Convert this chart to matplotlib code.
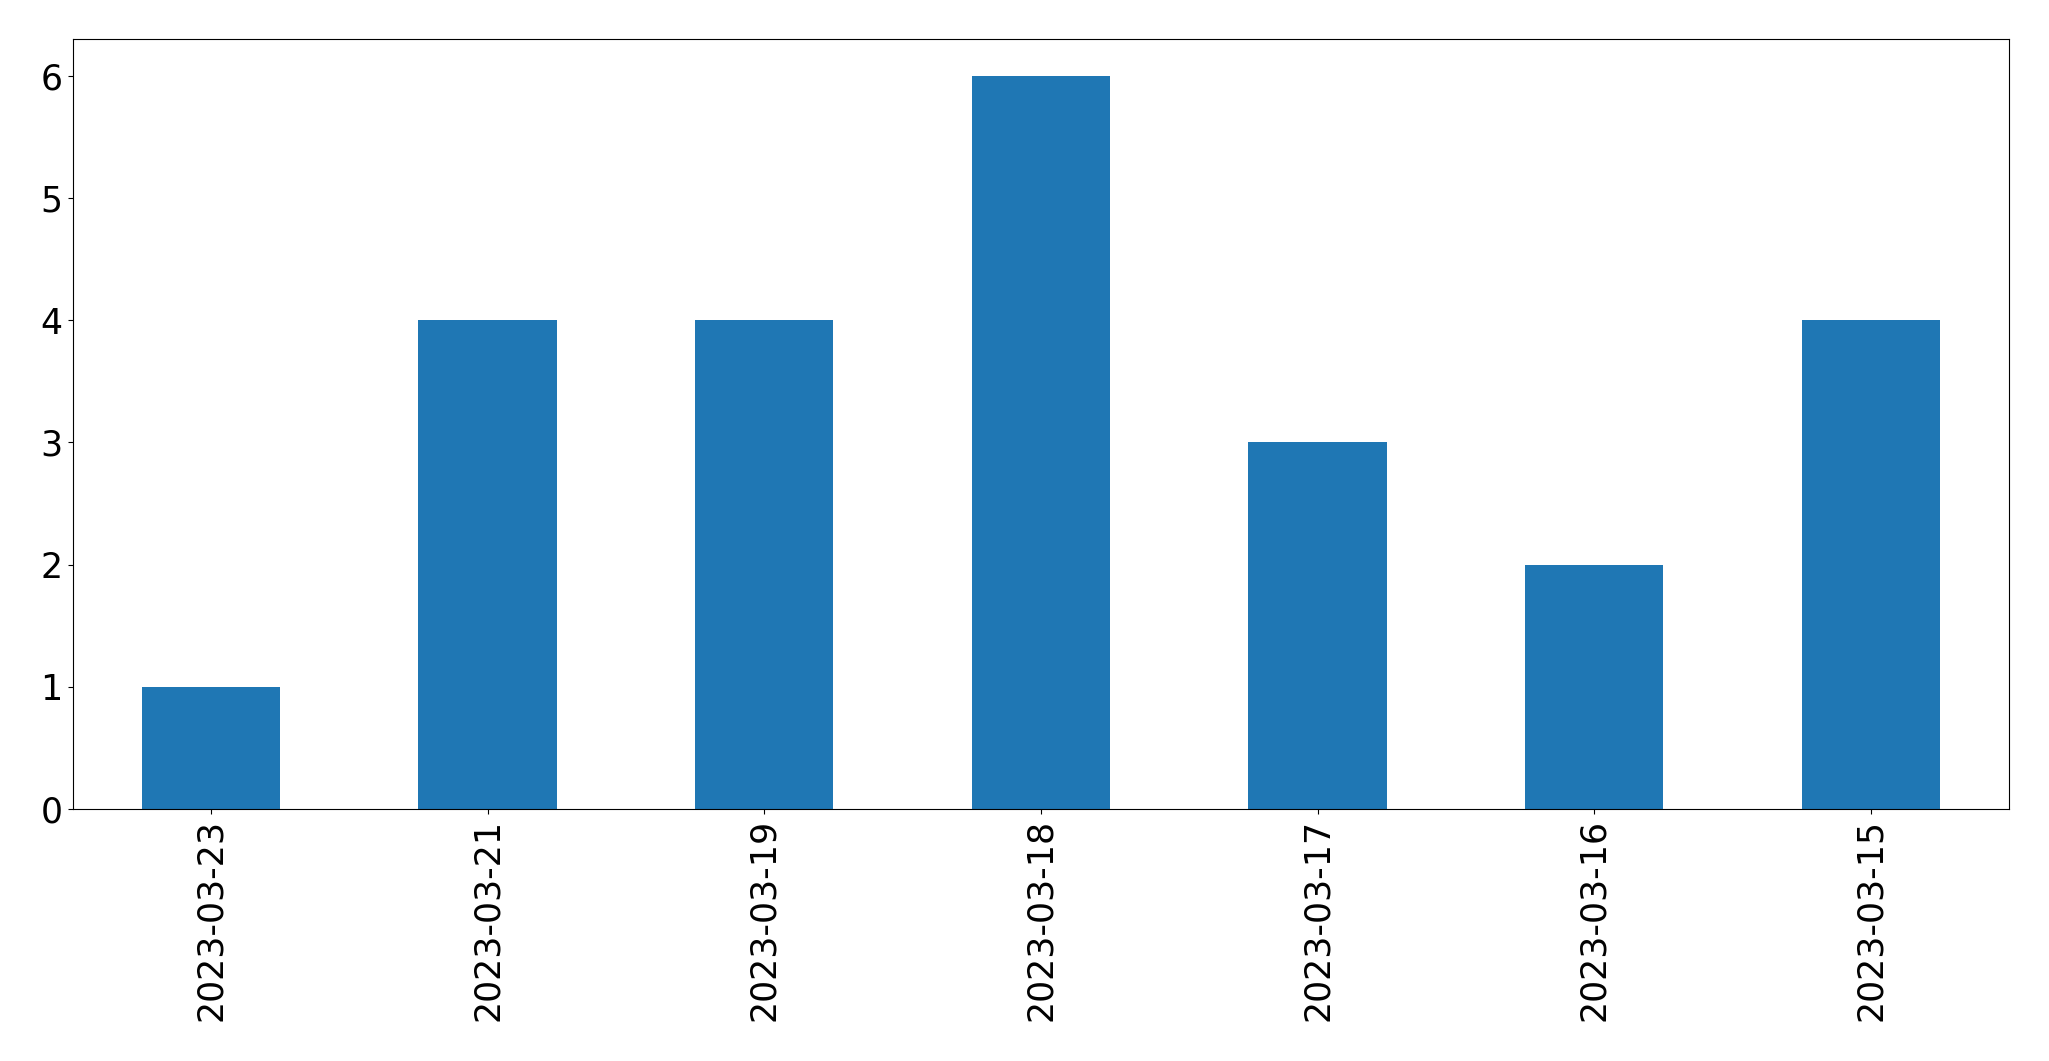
import matplotlib
matplotlib.use("Agg")
import matplotlib.pyplot as plt
import numpy as np

dates = ["2023-03-23", "2023-03-21", "2023-03-19", "2023-03-18", "2023-03-17", "2023-03-16", "2023-03-15"]
counts = [1, 4, 4, 6, 3, 2, 4]

fig = plt.figure(figsize=(20.49, 10.61), dpi=100)
ax = fig.add_axes([72.5/2049, 1-809/1061, (2009.3-72.5)/2049, (809-39)/1061])
x = np.arange(len(dates))
ax.bar(x, counts, width=0.5, color="#1f77b4")
ax.set_xlim(-0.5, len(dates)-0.5)
ax.set_xticks(x)
ax.set_xticklabels(dates, rotation=90)
ax.tick_params(labelsize=25)
fig.savefig("out.png", dpi=100)
